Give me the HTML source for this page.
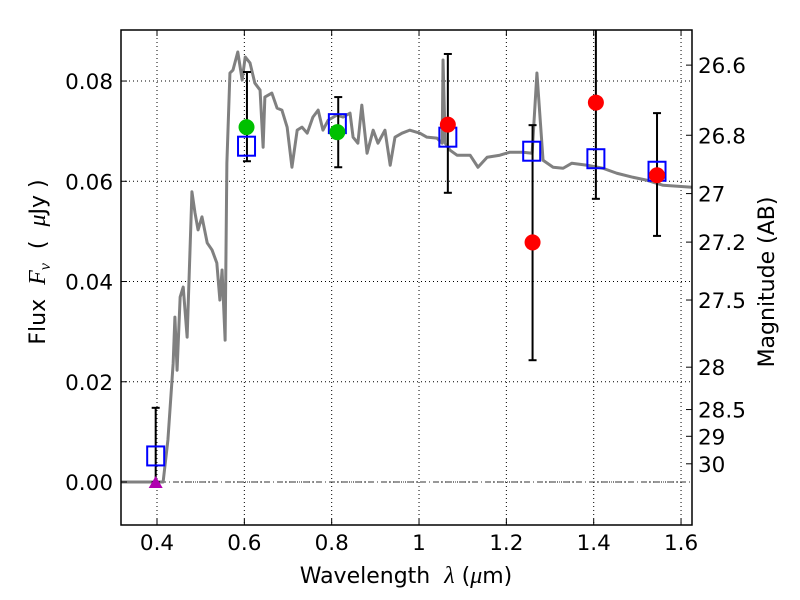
<!DOCTYPE html>
<html><head><meta charset="utf-8"><style>
body{margin:0;background:#fff}
svg{display:block;font-family:"DejaVu Sans","Liberation Sans",sans-serif}
</style></head><body>
<svg id="chart" width="800" height="600" viewBox="0 0 800 600" xmlns="http://www.w3.org/2000/svg">
<rect width="800" height="600" fill="#fff"/>
<g id="grid"></g>
<g id="plot"></g>
<g id="axes"></g>
<text x="406" y="583" font-size="22" text-anchor="middle" xml:space="preserve">Wavelength  <tspan font-style="italic" font-family="Liberation Serif,serif" font-size="24">λ</tspan> (<tspan font-style="italic" font-family="Liberation Serif,serif" font-size="24">μ</tspan>m)</text>
<text transform="translate(45,262) rotate(-90)" font-size="22" text-anchor="middle" xml:space="preserve">Flux  <tspan font-style="italic" font-family="Liberation Serif,serif" font-size="24">F</tspan><tspan font-style="italic" font-family="Liberation Serif,serif" font-size="16" dy="5">ν</tspan><tspan dy="-5">  (  </tspan><tspan font-style="italic" font-family="Liberation Serif,serif" font-size="24">μ</tspan>Jy )</text>
<text transform="translate(774,282) rotate(-90)" font-size="22" text-anchor="middle">Magnitude (AB)</text>
</svg>
<script>
const NS="http://www.w3.org/2000/svg";
// ---- data ----
const xTicks=[0.4,0.6,0.8,1.0,1.2,1.4,1.6];
const xTickLabels=["0.4","0.6","0.8","1","1.2","1.4","1.6"];
const yTicks=[0,0.02,0.04,0.06,0.08];
const yTickLabels=["0.00","0.02","0.04","0.06","0.08"];
const magTicks=[26.6,26.8,27,27.2,27.5,28,28.5,29,30];
const magTickLabels=["26.6","26.8","27","27.2","27.5","28","28.5","29","30"];
const sedWave=[0.318,0.414,0.425,0.437,0.441,0.446,0.453,0.460,0.469,0.480,0.487,0.494,0.503,0.515,0.526,0.537,0.544,0.549,0.556,0.560,0.567,0.574,0.585,0.595,0.602,0.613,0.624,0.636,0.643,0.647,0.663,0.675,0.686,0.698,0.709,0.721,0.732,0.744,0.757,0.769,0.780,0.792,0.812,0.826,0.842,0.849,0.860,0.869,0.881,0.895,0.906,0.922,0.934,0.945,0.961,0.979,1.002,1.018,1.041,1.053,1.055,1.060,1.071,1.087,1.117,1.135,1.156,1.185,1.208,1.238,1.259,1.270,1.284,1.307,1.330,1.350,1.385,1.421,1.453,1.490,1.522,1.559,1.627];
const sedFlux=[0,0,0.0084,0.0237,0.0329,0.0223,0.0369,0.0389,0.0289,0.0579,0.0537,0.0503,0.0529,0.0477,0.0463,0.0437,0.0363,0.0423,0.0283,0.0636,0.0816,0.0822,0.0858,0.0802,0.0848,0.0836,0.0796,0.0782,0.0668,0.0768,0.0776,0.0746,0.0742,0.0708,0.0628,0.0702,0.0708,0.0696,0.0728,0.0742,0.0702,0.0722,0.0732,0.0728,0.0736,0.0688,0.0676,0.0752,0.0656,0.0702,0.0676,0.0702,0.0632,0.0688,0.0696,0.0702,0.0696,0.0688,0.0686,0.0676,0.0842,0.0676,0.0662,0.0652,0.0652,0.0628,0.0648,0.0652,0.0658,0.0658,0.0656,0.0816,0.0642,0.0628,0.0626,0.0636,0.0632,0.0626,0.0616,0.0608,0.0602,0.0592,0.0588];
const modelWave=[0.397,0.605,0.813,1.066,1.258,1.405,1.545];
const modelFlux=[0.0052,0.0670,0.0715,0.0688,0.0660,0.0645,0.0620];
const errWave=[0.397,0.606,0.815,1.066,1.260,1.405,1.545];
const errHi=[0.0148,0.0818,0.0768,0.0854,0.0712,0.0930,0.0736];
const errLo=[0.0,0.0640,0.0628,0.0577,0.0243,0.0565,0.0491];
const greenWave=[0.605,0.813];
const greenFlux=[0.0708,0.0698];
const redWave=[1.066,1.260,1.405,1.545];
const redFlux=[0.0713,0.0478,0.0757,0.0612];
const limitWave=[0.397];
const limitFlux=[0];
// ---- axes ----
const L=121,R=692,T=30,B=525;
const sx=v=>157+(v-0.4)*436.7;
const sy=v=>482-v*5012;
const smag=m=>sy(Math.pow(10,-0.4*(m-23.9)));
function el(tag,attrs,parent){const e=document.createElementNS(NS,tag);for(const k in attrs)e.setAttribute(k,attrs[k]);parent.appendChild(e);return e;}
const grid=document.getElementById('grid'),plot=document.getElementById('plot'),axes=document.getElementById('axes');
xTicks.forEach((v,i)=>{
 const g=el('line',{x1:sx(v),x2:sx(v),y1:T,y2:B,stroke:'#000','stroke-width':1,'stroke-dasharray':'1,3'},grid);
 
 const t=el('line',{x1:sx(v),x2:sx(v),y1:B,y2:B-6,stroke:'#000'},axes);
 
 const t2=el('line',{x1:sx(v),x2:sx(v),y1:T,y2:T+6,stroke:'#000'},axes);
 
 const l=el('text',{x:sx(v),y:B+25,'font-size':21.5,'text-anchor':'middle'},axes);l.textContent=xTickLabels[i];
 
});
yTicks.forEach((v,i)=>{
 const g=el('line',{x1:L,x2:R,y1:sy(v),y2:sy(v),stroke:'#000','stroke-width':1,'stroke-dasharray':'1,3'},grid);
 
 const t=el('line',{x1:L,x2:L+6,y1:sy(v),y2:sy(v),stroke:'#000'},axes);
 
 const l=el('text',{x:113,y:sy(v)+8,'font-size':21.5,'text-anchor':'end'},axes);l.textContent=yTickLabels[i];
 
});
magTicks.forEach((m,i)=>{
 const y=smag(m);
 const t=el('line',{x1:R-6,x2:R,y1:y,y2:y,stroke:'#000'},axes);
 
 const l=el('text',{x:698,y:y+8,'font-size':21.5},axes);l.textContent=magTickLabels[i];
 
});
const zl=el('line',{x1:L,x2:R,y1:sy(0),y2:sy(0),stroke:'#333','stroke-width':1,'stroke-dasharray':'6,3,1,3'},plot);

const clip=el('clipPath',{id:'c'},plot);el('rect',{x:L,y:T,width:R-L,height:B-T},clip);
const sed=el('polyline',{points:sedWave.map((w,i)=>sx(w)+','+sy(sedFlux[i])).join(' '),fill:'none',stroke:'#808080','stroke-width':3,'stroke-linejoin':'round','clip-path':'url(#c)'},plot);

errWave.forEach((w,i)=>{
 const x=sx(w),y1=Math.max(T,sy(errHi[i])),y2=sy(errLo[i]);
 const g=el('g',{},plot);
 
 el('line',{x1:x,x2:x,y1:y1,y2:y2,stroke:'#000','stroke-width':2},g);
 if(sy(errHi[i])>=T)el('line',{x1:x-4,x2:x+4,y1:y1,y2:y1,stroke:'#000','stroke-width':2},g);
 el('line',{x1:x-4,x2:x+4,y1:y2,y2:y2,stroke:'#000','stroke-width':2},g);
});
modelWave.forEach((w,i)=>{
 const r=el('rect',{x:sx(w)-8.5,y:sy(modelFlux[i])-9.5,width:17,height:19,fill:'none',stroke:'#0000ff','stroke-width':2},plot);
 
});
greenWave.forEach((w,i)=>{
 const c=el('circle',{cx:sx(w),cy:sy(greenFlux[i]),r:8,fill:'#00c000'},plot);
 
});
redWave.forEach((w,i)=>{
 const c=el('circle',{cx:sx(w),cy:sy(redFlux[i]),r:8,fill:'#ff0000'},plot);
 
});
limitWave.forEach((w,i)=>{
 const x=sx(w),y=sy(limitFlux[i]);
 const p=el('polygon',{points:`${x-7},${y+6} ${x+7},${y+6} ${x},${y-6}`,fill:'#b000b0'},plot);
 
});
const fr=el('rect',{x:L,y:T,width:R-L,height:B-T,fill:'none',stroke:'#000','stroke-width':1.5},axes);

</script>
</body></html>
